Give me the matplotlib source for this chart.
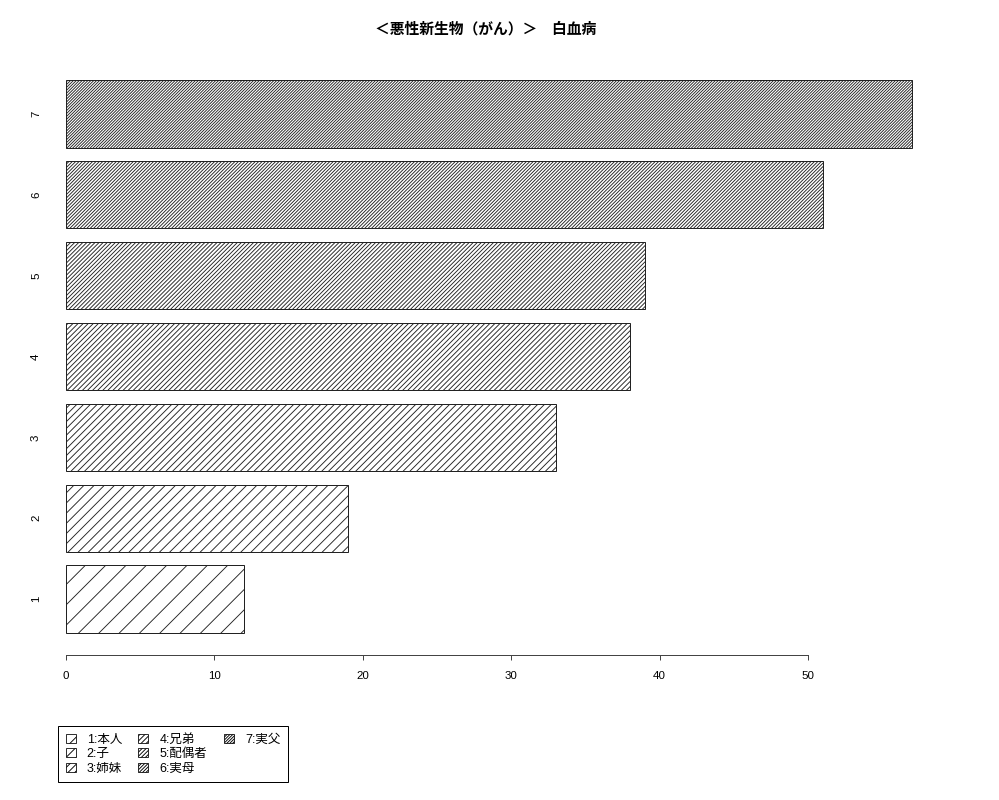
import matplotlib
matplotlib.use('Agg')
import matplotlib.pyplot as plt
from matplotlib.patches import Patch
import numpy as np

# data
title = '＜悪性新生物（がん）＞　白血病'
bar_names = ['1', '2', '3', '4', '5', '6', '7']
values = [12, 19, 33, 38, 39, 51, 57]
legend_labels = ['1:本人', '2:子', '3:姉妹', '4:兄弟', '5:配偶者', '6:実母', '7:実父']
x_ticks = [0, 10, 20, 30, 40, 50]

# matplotlib's '/' hatch spacing is dpi/(3*n) px; R density 5*n at 72dpi
# gives ~20.4/n px, so dpi ~61 lines them up
DPI = 61


def px(p):
    # pixel size -> points at this dpi
    return p * 72.0 / DPI


plt.rcParams['font.family'] = ['Liberation Sans', 'Noto Sans CJK JP']
plt.rcParams['hatch.linewidth'] = px(0.9)

fig = plt.figure(figsize=(1000 / DPI, 800 / DPI), dpi=DPI)
ax = fig.add_axes([0.05, 0.18125, 0.896, 0.74625])

# R barplot layout: width 1, space 0.2
centers = 0.7 + 1.2 * np.arange(len(values))
hatches = ['/' * (i + 1) for i in range(len(values))]

for c, v, h in zip(centers, values, hatches):
    ax.barh(c, v, height=1.0, color='white', edgecolor='#222222',
            linewidth=px(1), hatch=h)

ax.set_xlim(-16 / 14.84, 59.3)
ax.set_ylim(-0.128, 8.728)

for s in ['top', 'right', 'left']:
    ax.spines[s].set_visible(False)
ax.spines['bottom'].set_bounds(0, 50)
ax.spines['bottom'].set_linewidth(px(1))
ax.spines['bottom'].set_color('#444444')

ax.set_xticks(x_ticks)
ax.set_xticklabels([str(t) for t in x_ticks])
ax.tick_params(axis='x', length=px(5), width=px(1), color='#444444',
               pad=px(11), labelsize=px(11.5))

ax.set_yticks(centers)
ax.set_yticklabels(bar_names, rotation=90, va='center')
ax.tick_params(axis='y', length=0, pad=px(9), labelsize=px(11.5))

fig.text(0.486, 1 - 29 / 800, title, ha='center', va='center',
         fontsize=px(14.8), fontweight='bold',
         family=['Noto Sans CJK JP', 'DejaVu Sans'])

handles = [Patch(facecolor='white', edgecolor='black', linewidth=px(0.8), hatch=h)
           for h in hatches]
labels = list(legend_labels)
# pad to 9 entries so columns fill 3-3-1 like R
for _ in range(2):
    handles.append(Patch(visible=False))
    labels.append('')

leg = fig.legend(handles, labels, ncol=3, loc='lower left',
                 bbox_to_anchor=(0.058, 0.0225), bbox_transform=fig.transFigure,
                 fontsize=px(12.5), frameon=True, fancybox=False, framealpha=1,
                 edgecolor='black', borderpad=0.6, handlelength=0.8,
                 handleheight=0.7, handletextpad=0.9, columnspacing=1.3,
                 labelspacing=0.2, borderaxespad=0)
leg.get_frame().set_linewidth(px(1))

fig.savefig('out.png', dpi=DPI)
